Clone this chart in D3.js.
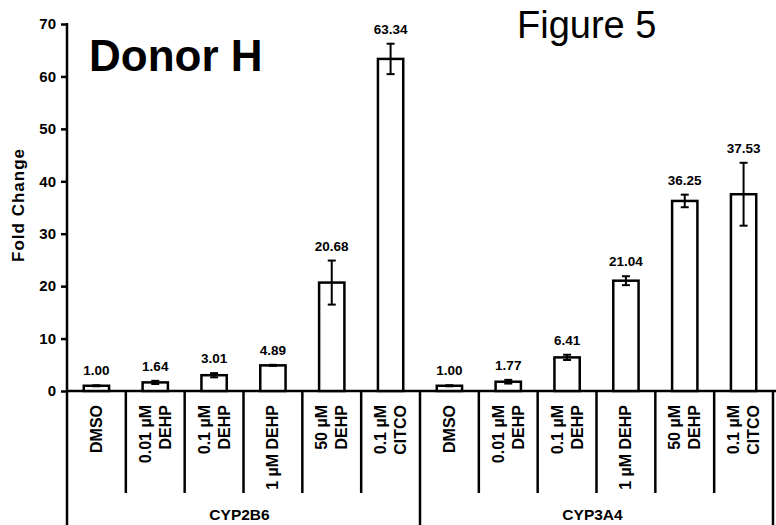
<!DOCTYPE html>
<html>
<head>
<meta charset="utf-8">
<script src="https://cdn.jsdelivr.net/npm/d3@7"></script>
<style>
  body { margin: 0; background: #fff; }
  text { font-family: Arial, "Liberation Sans", sans-serif; fill: #000; }
</style>
</head>
<body>
<svg id="chart"></svg>
<script>
// Data
const groups = ["CYP2B6", "CYP3A4"];
const treatments = [["DMSO"], ["0.01 µM", "DEHP"], ["0.1 µM", "DEHP"], ["1 µM DEHP"], ["50 µM", "DEHP"], ["0.1 µM", "CITCO"]];
const cyp2b6 = [1.00, 1.64, 3.01, 4.89, 20.68, 63.34];
const cyp2b6Err = [0.1, 0.3, 0.4, 0.1, 4.2, 2.9];
const cyp3a4 = [1.00, 1.77, 6.41, 21.04, 36.25, 37.53];
const cyp3a4Err = [0.1, 0.35, 0.5, 0.85, 1.2, 6.0];
const yTicks = [0, 10, 20, 30, 40, 50, 60, 70];

const width = 776, height = 525;
const plotLeft = 67, plotRight = 773, plotTop = 24, baseY = 391;

const rows = [];
groups.forEach((g, gi) => {
  const vals = gi === 0 ? cyp2b6 : cyp3a4;
  const errs = gi === 0 ? cyp2b6Err : cyp3a4Err;
  treatments.forEach((t, ti) => {
    rows.push({ key: g + ti, group: g, label: t, value: vals[ti], err: errs[ti] });
  });
});

const svg = d3.select("#chart")
  .attr("width", width)
  .attr("height", height)
  .style("display", "block");

const x = d3.scaleBand(rows.map(d => d.key), [plotLeft, plotRight]).padding(0);
const y = d3.scaleLinear([0, 70], [baseY, plotTop]);
const bw = x.bandwidth() * 0.43;

// y axis
const yAxis = svg.append("g")
  .attr("transform", `translate(${plotLeft},0)`)
  .call(d3.axisLeft(y).tickValues(yTicks).tickSize(6).tickPadding(5));
yAxis.select(".domain").remove();
yAxis.selectAll("line").attr("stroke", "#000").attr("stroke-width", 2.5);
yAxis.selectAll("text")
  .style("font-size", "15px")
  .style("font-weight", "bold");

svg.append("line")
  .attr("x1", plotLeft).attr("x2", plotLeft)
  .attr("y1", y(70) - 1).attr("y2", height)
  .attr("stroke", "#000").attr("stroke-width", 2.5);

svg.append("text")
  .attr("transform", "translate(24,205) rotate(-90)")
  .attr("text-anchor", "middle")
  .style("font-size", "17px")
  .style("font-weight", "bold")
  .style("letter-spacing", "1px")
  .text("Fold Change");

// baseline
svg.append("line")
  .attr("x1", plotLeft).attr("x2", width)
  .attr("y1", baseY).attr("y2", baseY)
  .attr("stroke", "#000").attr("stroke-width", 2.5);

// separators between categories
const seps = rows.map((d, i) => ({ x: x(d.key) + x.bandwidth(), full: (i + 1) % treatments.length === 0 }));
svg.selectAll("line.sep")
  .data(seps)
  .join("line")
  .attr("class", "sep")
  .attr("x1", d => d.x).attr("x2", d => d.x)
  .attr("y1", baseY)
  .attr("y2", d => d.full ? height : 493)
  .attr("stroke", "#000").attr("stroke-width", 2.5);

// bars
svg.selectAll("rect.bar")
  .data(rows)
  .join("rect")
  .attr("class", "bar")
  .attr("x", d => x(d.key) + (x.bandwidth() - bw) / 2)
  .attr("y", d => y(d.value))
  .attr("width", bw)
  .attr("height", d => baseY - y(d.value))
  .attr("fill", "#fff")
  .attr("stroke", "#000")
  .attr("stroke-width", 2.5);

// error bars
const cx = d => x(d.key) + x.bandwidth() / 2;
const eb = svg.append("g").attr("stroke", "#000").attr("stroke-width", 2);
eb.selectAll("line.v").data(rows).join("line").attr("class", "v")
  .attr("x1", cx).attr("x2", cx)
  .attr("y1", d => y(d.value + d.err)).attr("y2", d => y(d.value - d.err));
eb.selectAll("line.t").data(rows).join("line").attr("class", "t")
  .attr("x1", d => cx(d) - 4).attr("x2", d => cx(d) + 4)
  .attr("y1", d => y(d.value + d.err)).attr("y2", d => y(d.value + d.err));
eb.selectAll("line.b").data(rows).join("line").attr("class", "b")
  .attr("x1", d => cx(d) - 4).attr("x2", d => cx(d) + 4)
  .attr("y1", d => y(d.value - d.err)).attr("y2", d => y(d.value - d.err));

// value labels
svg.selectAll("text.val")
  .data(rows)
  .join("text")
  .attr("class", "val")
  .attr("x", cx)
  .attr("y", d => y(d.value + d.err) - 10)
  .attr("text-anchor", "middle")
  .style("font-size", "13.5px")
  .style("font-weight", "bold")
  .text(d => d.value.toFixed(2));

// category labels (rotated)
rows.forEach(d => {
  const c = cx(d);
  const n = d.label.length;
  d.label.forEach((line, li) => {
    const off = n === 1 ? 0 : (li === 0 ? -10 : 10);
    svg.append("text")
      .attr("transform", `translate(${c + off + 5.5},405) rotate(-90)`)
      .attr("text-anchor", "end")
      .style("font-size", "16px")
      .style("font-weight", "bold")
      .text(line);
  });
});

// group labels
groups.forEach(g => {
  const first = x(g + 0), last = x(g + (treatments.length - 1)) + x.bandwidth();
  svg.append("text")
    .attr("x", (first + last) / 2 - 4)
    .attr("y", 520)
    .attr("text-anchor", "middle")
    .style("font-size", "15.5px")
    .style("font-weight", "bold")
    .text(g);
});

// titles
svg.append("text")
  .attr("x", 89).attr("y", 71)
  .style("font-size", "44px")
  .style("font-weight", "bold")
  .text("Donor H");

svg.append("text")
  .attr("x", 517).attr("y", 38)
  .style("font-size", "38px")
  .text("Figure 5");
</script>
</body>
</html>
